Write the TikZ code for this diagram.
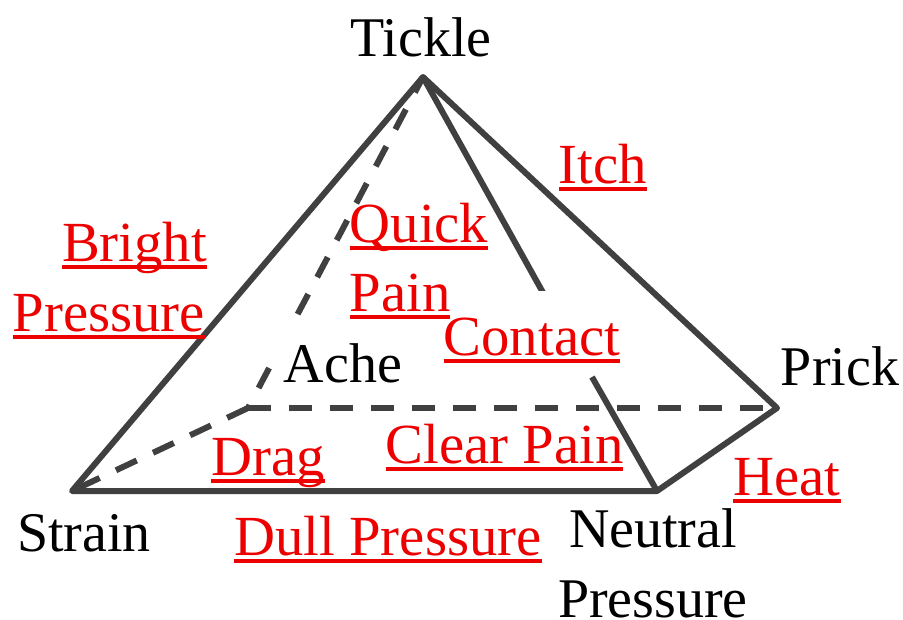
\documentclass[tikz,border=0pt]{standalone}
\usepackage{fontspec}
\setmainfont{Liberation Serif}
\definecolor{edge}{RGB}{64,64,64}
\definecolor{redlab}{RGB}{236,0,0}
\tikzset{
  solidedge/.style={draw=edge,line width=6pt,line join=round},
  dashedge/.style={draw=edge,line width=6pt,dash pattern=on 23pt off 18pt},
  blk/.style={inner sep=0pt,font=\fontsize{56}{60}\selectfont,text=black,anchor=base},
  redl/.style={inner sep=0pt,font=\fontsize{56.7}{60}\selectfont,text=redlab,anchor=base},
}
\newcommand{\ul}[1]{\setbox0=\hbox{#1}\rlap{\raisebox{-7.5pt}{\rule{\wd0}{3.4pt}}}\box0}
\begin{document}
\begin{tikzpicture}[x=1pt,y=-1pt]
\useasboundingbox (0,0) rectangle (903,619);
\coordinate (top) at (423,77);
\coordinate (sw) at (72,491);
\coordinate (se) at (657,491);
\coordinate (ne) at (777,408);
\coordinate (nw) at (248,408);
\coordinate (c1) at (546,298);
\coordinate (c2) at (592,377);
\draw[dashedge,dash pattern=on 22.6pt off 19.2pt,dash phase=19.2pt] (nw) -- (top);
\fill[white] (264,322) rectangle (295,358);
\draw[dashedge] (nw) -- (ne);
\draw[dashedge] (nw) -- (sw);
\draw[solidedge] (sw) -- (top) -- (ne) -- (se) -- cycle;
\begin{scope}
\clip (400,60) rectangle (600,290);
\draw[solidedge] (top) -- (c1);
\end{scope}
\draw[solidedge] (c2) -- (se);
\node[blk] (tickle) at (421,56) {Tickle};
\node[blk] (ache) at (343,382) {Ache};
\node[blk] (prick) at (840,385) {Prick};
\node[blk] (strain) at (84,551) {Strain};
\node[blk] (neutral) at (653,547) {Neutral};
\node[blk] (pressure) at (653,617) {Pressure};
\node[redl] (itch) at (603,183) {\ul{Itch}};
\node[redl] (bright) at (134.5,261) {\ul{Bright}};
\node[redl] (bp) at (109,331) {\ul{Pressure}};
\node[redl] (quick) at (419,242) {\ul{Quick}};
\node[redl] (pain) at (400,311) {\ul{Pain}};
\node[redl] (contact) at (532,355) {\ul{Contact}};
\node[redl] (drag) at (268,475) {\ul{Drag}};
\node[redl] (clear) at (504.5,463) {\ul{Clear Pain}};
\node[redl] (heat) at (787,495) {\ul{Heat}};
\node[redl] (dull) at (388,555) {\ul{Dull Pressure}};
\end{tikzpicture}
\end{document}
